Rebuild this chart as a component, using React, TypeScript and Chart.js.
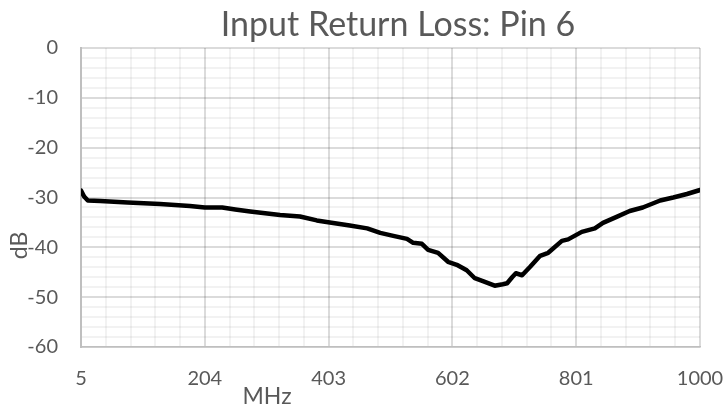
import React, { useEffect, useRef } from "react";
import { Chart, registerables } from "chart.js";

Chart.register(...registerables);

const chartTitle = "Input Return Loss: Pin 6";
const xAxisTitle = "MHz";
const yAxisTitle = "dB";

const freqMHz = [
  5, 10, 16, 36, 80, 132, 180, 204, 232, 253, 277, 325, 357, 384, 405, 437, 465,
  486, 507, 529, 539, 553, 563, 579, 595, 609, 625, 638, 651, 670, 683, 690, 698,
  704, 714, 727, 743, 756, 778, 788, 810, 831, 844, 866, 887, 908, 936, 957, 979,
  1000,
];
const returnLossDb = [
  -28.6, -29.8, -30.6, -30.7, -31.0, -31.3, -31.7, -32.0, -32.0, -32.4, -32.8,
  -33.5, -33.8, -34.6, -35.0, -35.6, -36.2, -37.1, -37.7, -38.3, -39.1, -39.3,
  -40.5, -41.1, -42.9, -43.5, -44.6, -46.2, -46.8, -47.7, -47.4, -47.2, -46.0,
  -45.2, -45.6, -43.9, -41.7, -41.1, -38.7, -38.4, -36.9, -36.2, -35.1, -33.9,
  -32.7, -32.0, -30.6, -30.0, -29.3, -28.5,
];

const xTickValues = [5, 204, 403, 602, 801, 1000];
const xTickLabels = ["5", "204", "403", "602", "801", "1000"];
const yTickValues = [-60, -50, -40, -30, -20, -10, 0];
const yTickLabels = ["-60", "-50", "-40", "-30", "-20", "-10", "0"];
const minorPerMajor = 5;

const TEXT = "#595959";
const MAJOR = "rgba(0,0,0,0.14)";
const MINOR = "rgba(0,0,0,0.05)";
const FONT = "Lato, 'Open Sans', sans-serif";

function withMinor(majors: number[]) {
  const out: { value: number; major: boolean }[] = [];
  for (let i = 0; i < majors.length; i++) {
    out.push({ value: majors[i], major: true });
    if (i < majors.length - 1) {
      const step = (majors[i + 1] - majors[i]) / minorPerMajor;
      for (let k = 1; k < minorPerMajor; k++) {
        out.push({ value: majors[i] + step * k, major: false });
      }
    }
  }
  return out;
}

const textPlugin = {
  id: "customTexts",
  afterDraw(chart: any) {
    const ctx = chart.ctx;
    ctx.save();
    ctx.fillStyle = TEXT;
    ctx.textAlign = "center";
    ctx.textBaseline = "alphabetic";
    ctx.font = `34px ${FONT}`;
    ctx.fillText(chartTitle, 398, 36);
    ctx.font = `23px ${FONT}`;
    ctx.fillText(xAxisTitle, 267, 404);
    ctx.translate(27, 245.5);
    ctx.rotate(-Math.PI / 2);
    ctx.fillText(yAxisTitle, 0, 0);
    ctx.restore();
  },
};

export default function App() {
  const ref = useRef<HTMLCanvasElement | null>(null);
  useEffect(() => {
    if (!ref.current) return;
    const xTicks = withMinor(xTickValues);
    const yTicks = withMinor(yTickValues);
    const gridColor = (c: any) => (c.index % minorPerMajor === 0 ? MAJOR : MINOR);
    const chart = new Chart(ref.current, {
      type: "line",
      data: {
        datasets: [
          {
            data: freqMHz.map((f, i) => ({ x: f, y: returnLossDb[i] })),
            borderColor: "#000000",
            borderWidth: 4.5,
            pointRadius: 0,
            tension: 0,
            borderJoinStyle: "round",
            borderCapStyle: "round",
            fill: false,
          },
        ],
      },
      options: {
        animation: false,
        responsive: false,
        devicePixelRatio: 1,
        layout: { padding: { left: 0, right: 27, top: 48, bottom: 0 } },
        plugins: { legend: { display: false }, tooltip: { enabled: false } },
        scales: {
          x: {
            type: "linear",
            min: 5,
            max: 1000,
            afterBuildTicks: (scale: any) => {
              scale.ticks = xTicks.map((t) => ({ value: t.value }));
            },
            afterFit: (scale: any) => {
              scale.height = 60;
              scale.paddingLeft = 0;
              scale.paddingRight = 0;
            },
            ticks: {
              autoSkip: false,
              maxRotation: 0,
              padding: 20,
              color: TEXT,
              font: { family: FONT, size: 20 },
              callback: (_v: any, i: number) =>
                i % minorPerMajor === 0 ? xTickLabels[i / minorPerMajor] : "",
            },
            grid: { drawTicks: false, color: gridColor, lineWidth: 2 },
            border: { color: "#bfbfbf", width: 1.5 },
          },
          y: {
            type: "linear",
            min: -60,
            max: 0,
            afterBuildTicks: (scale: any) => {
              scale.ticks = yTicks.map((t) => ({ value: t.value }));
            },
            afterFit: (scale: any) => {
              scale.width = 81;
              scale.paddingTop = 0;
              scale.paddingBottom = 0;
            },
            ticks: {
              autoSkip: false,
              padding: 23,
              color: TEXT,
              font: { family: FONT, size: 20 },
              callback: (_v: any, i: number) =>
                i % minorPerMajor === 0 ? yTickLabels[i / minorPerMajor] : "",
            },
            grid: { drawTicks: false, color: gridColor, lineWidth: 2 },
            border: { color: "#bfbfbf", width: 2 },
          },
        },
      },
      plugins: [textPlugin],
    } as any);
    return () => chart.destroy();
  }, []);
  return (
    <div style={{ position: "absolute", left: 0, top: 0, width: 727, height: 407, background: "#fff" }}>
      <canvas ref={ref} width={727} height={407} />
    </div>
  );
}
